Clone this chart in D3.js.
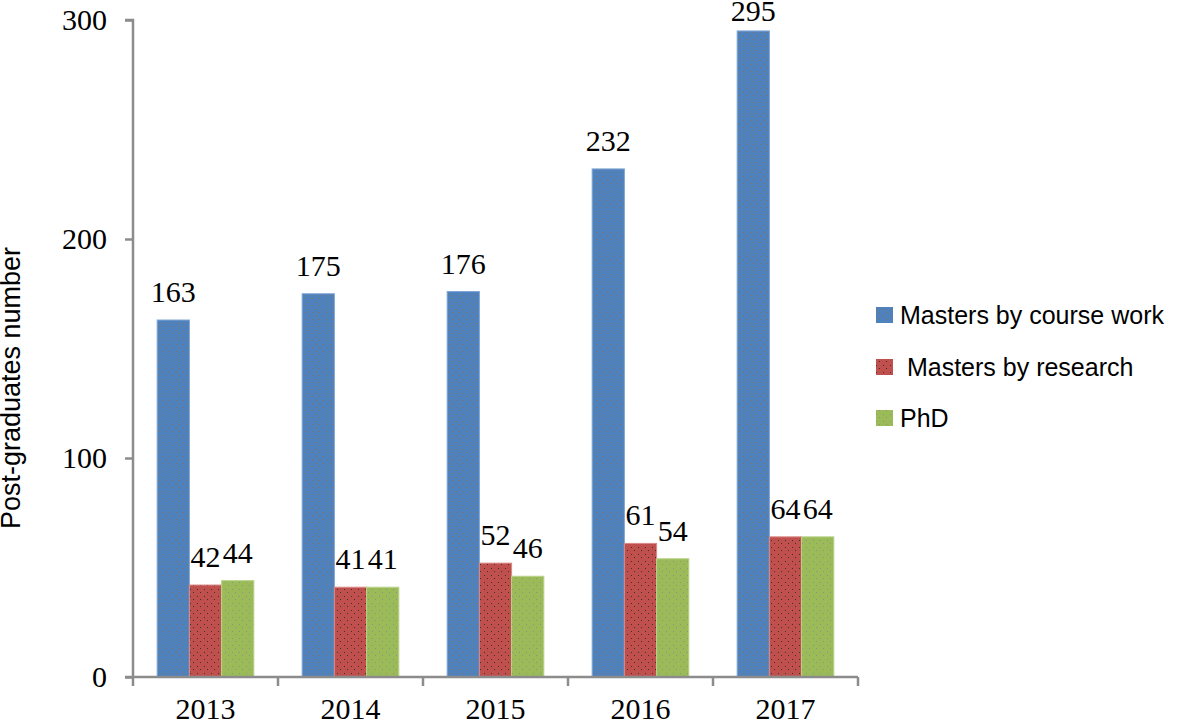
<!DOCTYPE html>
<html>
<head>
<meta charset="utf-8">
<script src="https://cdn.jsdelivr.net/npm/d3@7"></script>
<style>
  html, body { margin: 0; padding: 0; background: #fff; }
  svg { display: block; }
</style>
</head>
<body>
<svg id="chart" width="1181" height="723"></svg>
<script>
const years = ["2013", "2014", "2015", "2016", "2017"];
const seriesNames = ["Masters by course work", " Masters by research", "PhD"];
const courseWork = [163, 175, 176, 232, 295];
const research = [42, 41, 52, 61, 64];
const phd = [44, 41, 46, 54, 64];
const yTicks = [0, 100, 200, 300];
const yTitle = "Post-graduates number";

(function () {
const colors = ["#4F81BD", "#C0504D", "#9BBB59"];
const dotColors = ["#9a6a3a", "#1f2a20", "#8a8a8a"];
const borders = ["#7FA5D6", "#D98A88", "#B9D38A"];
const allSeries = [courseWork, research, phd];

const svg = d3.select("#chart");
const pLeft = 133, pRight = 858, pTop = 20, pBottom = 677;

const x = d3.scaleBand().domain(years).range([pLeft, pRight]).paddingInner(0).paddingOuter(0);
const bandW = x.bandwidth();
const barW = bandW / 4.5;
const xs = d3.scaleBand().domain(d3.range(3)).range([0.75 * barW, 3.75 * barW]);
const y = d3.scaleLinear().domain([0, 300]).range([pBottom, pTop]);

// patterns
const defs = svg.append("defs");
colors.forEach((c, i) => {
  const p = defs.append("pattern").attr("id", "pat" + i)
    .attr("patternUnits", "userSpaceOnUse").attr("width", 7).attr("height", 7);
  p.append("rect").attr("width", 7).attr("height", 7).attr("fill", c);
  p.append("rect").attr("x", 1).attr("y", 1).attr("width", 1).attr("height", 1).attr("fill", dotColors[i]).attr("opacity", 0.8);
  p.append("rect").attr("x", 4).attr("y", 4).attr("width", 1).attr("height", 1).attr("fill", dotColors[i]).attr("opacity", 0.8);
});

// bars
allSeries.forEach((vals, si) => {
  const g = svg.append("g");
  g.selectAll("rect").data(vals).enter().append("rect")
    .attr("x", (d, i) => x(years[i]) + xs(si))
    .attr("y", d => y(d))
    .attr("width", xs.bandwidth())
    .attr("height", d => y(0) - y(d))
    .attr("fill", "url(#pat" + si + ")")
    .attr("stroke", borders[si])
    .attr("stroke-width", 1);
  g.selectAll("text").data(vals).enter().append("text")
    .attr("x", (d, i) => x(years[i]) + xs(si) + xs.bandwidth() / 2)
    .attr("y", d => Math.max(y(d) - 18, 21))
    .attr("text-anchor", "middle")
    .attr("font-family", "Liberation Serif, serif")
    .attr("font-size", 30)
    .attr("fill", "#000")
    .text(d => d);
});

// y axis
const yAxis = svg.append("g").attr("transform", `translate(${pLeft},0)`)
  .call(d3.axisLeft(y).tickValues(yTicks).tickSize(8).tickPadding(18));
yAxis.select(".domain").attr("stroke", "#8c8c8c").attr("stroke-width", 2.5)
  .attr("d", `M-8,${pTop}H0V${pBottom}`);
yAxis.selectAll(".tick line").attr("stroke", "#8c8c8c").attr("stroke-width", 2.5);
yAxis.selectAll(".tick text").attr("font-family", "Liberation Serif, serif")
  .attr("font-size", 30).attr("fill", "#000").attr("dy", "0.33em");

// x axis
const xAxis = svg.append("g").attr("transform", `translate(0,${pBottom})`)
  .call(d3.axisBottom(x).tickSize(0).tickPadding(0));
xAxis.select(".domain").attr("stroke", "#8c8c8c").attr("stroke-width", 2.5)
  .attr("d", `M${pLeft - 8},0H${pRight}`);
xAxis.selectAll(".tick text").attr("font-family", "Liberation Serif, serif")
  .attr("font-size", 30).attr("fill", "#000").attr("dy", null).attr("y", 42);
// category boundary ticks
svg.append("g").selectAll("line").data(d3.range(years.length + 1)).enter().append("line")
  .attr("x1", i => pLeft + i * bandW).attr("x2", i => pLeft + i * bandW)
  .attr("y1", pBottom).attr("y2", pBottom + 9)
  .attr("stroke", "#8c8c8c").attr("stroke-width", 2.5);

// y title
svg.append("text")
  .attr("transform", `translate(20,388) rotate(-90)`)
  .attr("text-anchor", "middle")
  .attr("font-family", "Liberation Sans, sans-serif")
  .attr("font-size", 27)
  .attr("fill", "#000")
  .text(yTitle);

// legend
const leg = svg.append("g");
const rowY = [315, 367, 418];
seriesNames.forEach((n, i) => {
  leg.append("rect").attr("x", 876).attr("y", rowY[i] - 8).attr("width", 17).attr("height", 16)
    .attr("fill", "url(#pat" + i + ")");
  leg.append("text").attr("x", 900).attr("y", rowY[i] + 9)
    .attr("font-family", "Liberation Sans, sans-serif")
    .attr("font-size", 25)
    .attr("fill", "#000")
    .style("white-space", "pre")
    .text(n);
});
})();
</script>
</body>
</html>
